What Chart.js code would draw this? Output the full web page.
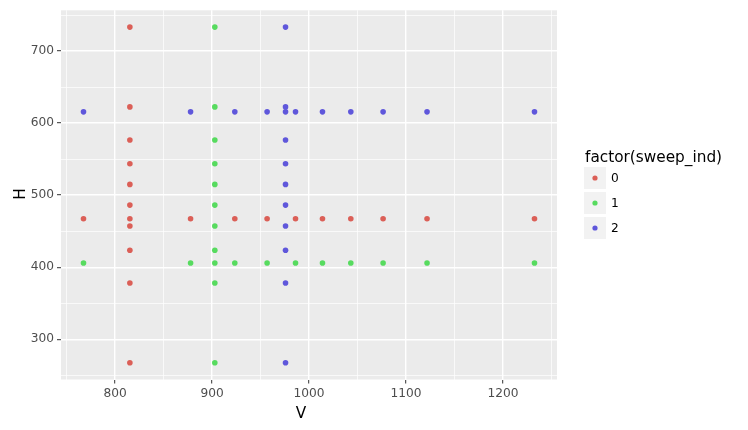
<!DOCTYPE html>
<html><head><meta charset="utf-8">
<style>html,body{margin:0;padding:0;background:#fff;}#wrap{width:748px;height:430px;}</style>
<script src="https://cdn.jsdelivr.net/npm/chart.js@4.4.0/dist/chart.umd.min.js"></script>
</head><body><div id="wrap"><canvas id="c" width="748" height="430"></canvas></div>
<script>
// ---- data ----
const seriesNames = ['0', '1', '2'];
const seriesColors = ['#DB5F57', '#57DB5F', '#5F57DB'];
const legendTitle = 'factor(sweep_ind)';
const xTitle = 'V';
const yTitle = 'H';

const sweep0V = [815.2, 815.2, 815.2, 815.2, 815.2, 815.2, 815.2, 815.2, 815.2, 815.2, 815.2,
                 767.4, 877.8, 923.4, 956.7, 986.0, 1013.8, 1043.0, 1076.3, 1121.6, 1232.4];
const sweep0H = [733.2, 622.5, 576.5, 543.6, 514.9, 486.2, 467.3, 457.2, 423.5, 378.2, 267.5,
                 467.3, 467.3, 467.3, 467.3, 467.3, 467.3, 467.3, 467.3, 467.3, 467.3];

const sweep1V = [902.8, 902.8, 902.8, 902.8, 902.8, 902.8, 902.8, 902.8, 902.8, 902.8, 902.8,
                 767.4, 877.8, 923.4, 956.7, 986.0, 1013.8, 1043.0, 1076.3, 1121.6, 1232.4];
const sweep1H = [733.2, 622.5, 576.5, 543.6, 514.9, 486.2, 457.2, 423.5, 405.9, 378.2, 267.5,
                 405.9, 405.9, 405.9, 405.9, 405.9, 405.9, 405.9, 405.9, 405.9, 405.9];

const sweep2V = [975.7, 975.7, 975.7, 975.7, 975.7, 975.7, 975.7, 975.7, 975.7, 975.7, 975.7,
                 767.4, 877.8, 923.4, 956.7, 986.0, 1013.8, 1043.0, 1076.3, 1121.6, 1232.4];
const sweep2H = [733.2, 622.5, 615.6, 576.5, 543.6, 514.9, 486.2, 457.2, 423.5, 378.2, 267.5,
                 615.6, 615.6, 615.6, 615.6, 615.6, 615.6, 615.6, 615.6, 615.6, 615.6];

const xMajorTicks = [800, 900, 1000, 1100, 1200];
const xMinorTicks = [750, 850, 950, 1050, 1150, 1250];
const yMajorTicks = [300, 400, 500, 600, 700];
const yMinorTicks = [250, 350, 450, 550, 650, 750];

const xLimits = [744.2, 1255.6];
const yLimits = [244.2, 756.5];

// ---- build ----
const FONT = "'DejaVu Sans', 'Liberation Sans', sans-serif";
const sweeps = [[sweep0V, sweep0H], [sweep1V, sweep1H], [sweep2V, sweep2H]];
const datasets = sweeps.map(([vs, hs], i) => ({
  label: seriesNames[i],
  data: vs.map((v, k) => ({ x: v, y: hs[k] })),
  backgroundColor: seriesColors[i],
  borderWidth: 0,
  pointRadius: 2.8,
  pointHoverRadius: 2.8,
  order: 2 - i
}));

function allTicks(maj, min) { return maj.concat(min).sort((a, b) => a - b); }
function isMajor(list, v) { return list.some(m => Math.abs(m - v) < 1e-6); }

function axisOpts(maj, min, lim, isX) {
  return {
    type: 'linear',
    min: lim[0], max: lim[1],
    afterBuildTicks: s => { s.ticks = allTicks(maj, min).map(v => ({ value: v })); },
    afterFit: s => { if (isX) s.height = 50.5; else s.width = 61; },
    border: { display: false },
    grid: {
      color: '#FFFFFF',
      lineWidth: c => (c.tick && isMajor(maj, c.tick.value)) ? 1.4 : 0.7,
      drawTicks: true,
      tickLength: 4,
      tickWidth: 1,
      tickColor: c => (c.tick && isMajor(maj, c.tick.value)) ? '#333333' : 'rgba(0,0,0,0)'
    },
    ticks: {
      autoSkip: false,
      maxRotation: 0,
      padding: 3,
      color: '#4D4D4D',
      font: { family: FONT, size: 12.2 },
      callback: v => isMajor(maj, v) ? String(v) : ''
    }
  };
}

const extras = {
  id: 'extras',
  beforeDraw(chart) {
    const { ctx, chartArea: a } = chart;
    ctx.save();
    ctx.fillStyle = '#FFFFFF';
    ctx.fillRect(0, 0, chart.width, chart.height);
    ctx.fillStyle = '#EBEBEB';
    ctx.fillRect(a.left, a.top, a.right - a.left, a.bottom - a.top);
    ctx.restore();
  },
  afterDraw(chart) {
    const { ctx } = chart;
    ctx.save();
    // axis titles
    ctx.fillStyle = '#000000';
    ctx.font = `15.3px ${FONT}`;
    ctx.textAlign = 'center';
    ctx.textBaseline = 'alphabetic';
    ctx.fillText(xTitle, 301, 417.7);
    ctx.save();
    ctx.translate(24.5, 194);
    ctx.rotate(-Math.PI / 2);
    ctx.fillText(yTitle, 0, 0);
    ctx.restore();
    // legend
    ctx.textAlign = 'left';
    ctx.font = `15.3px ${FONT}`;
    ctx.fillText(legendTitle, 585, 161.5);
    ctx.font = `12.2px ${FONT}`;
    seriesNames.forEach((n, i) => {
      const top = 167 + i * 25;
      ctx.fillStyle = '#F2F2F2';
      ctx.fillRect(584, top, 22, 22);
      ctx.fillStyle = seriesColors[i];
      ctx.beginPath();
      ctx.arc(595, top + 11, 2.6, 0, Math.PI * 2);
      ctx.fill();
      ctx.fillStyle = '#000000';
      ctx.fillText(n, 611, top + 11 + 4.4);
    });
    ctx.restore();
  }
};

new Chart(document.getElementById('c'), {
  type: 'scatter',
  data: { datasets },
  options: {
    responsive: false,
    animation: false,
    devicePixelRatio: 1,
    events: [],
    layout: { padding: { left: 0, right: 191, top: 9.5, bottom: 0 } },
    plugins: { legend: { display: false }, tooltip: { enabled: false }, title: { display: false } },
    scales: {
      x: axisOpts(xMajorTicks, xMinorTicks, xLimits, true),
      y: axisOpts(yMajorTicks, yMinorTicks, yLimits, false)
    }
  },
  plugins: [extras]
});
</script>
</body></html>
